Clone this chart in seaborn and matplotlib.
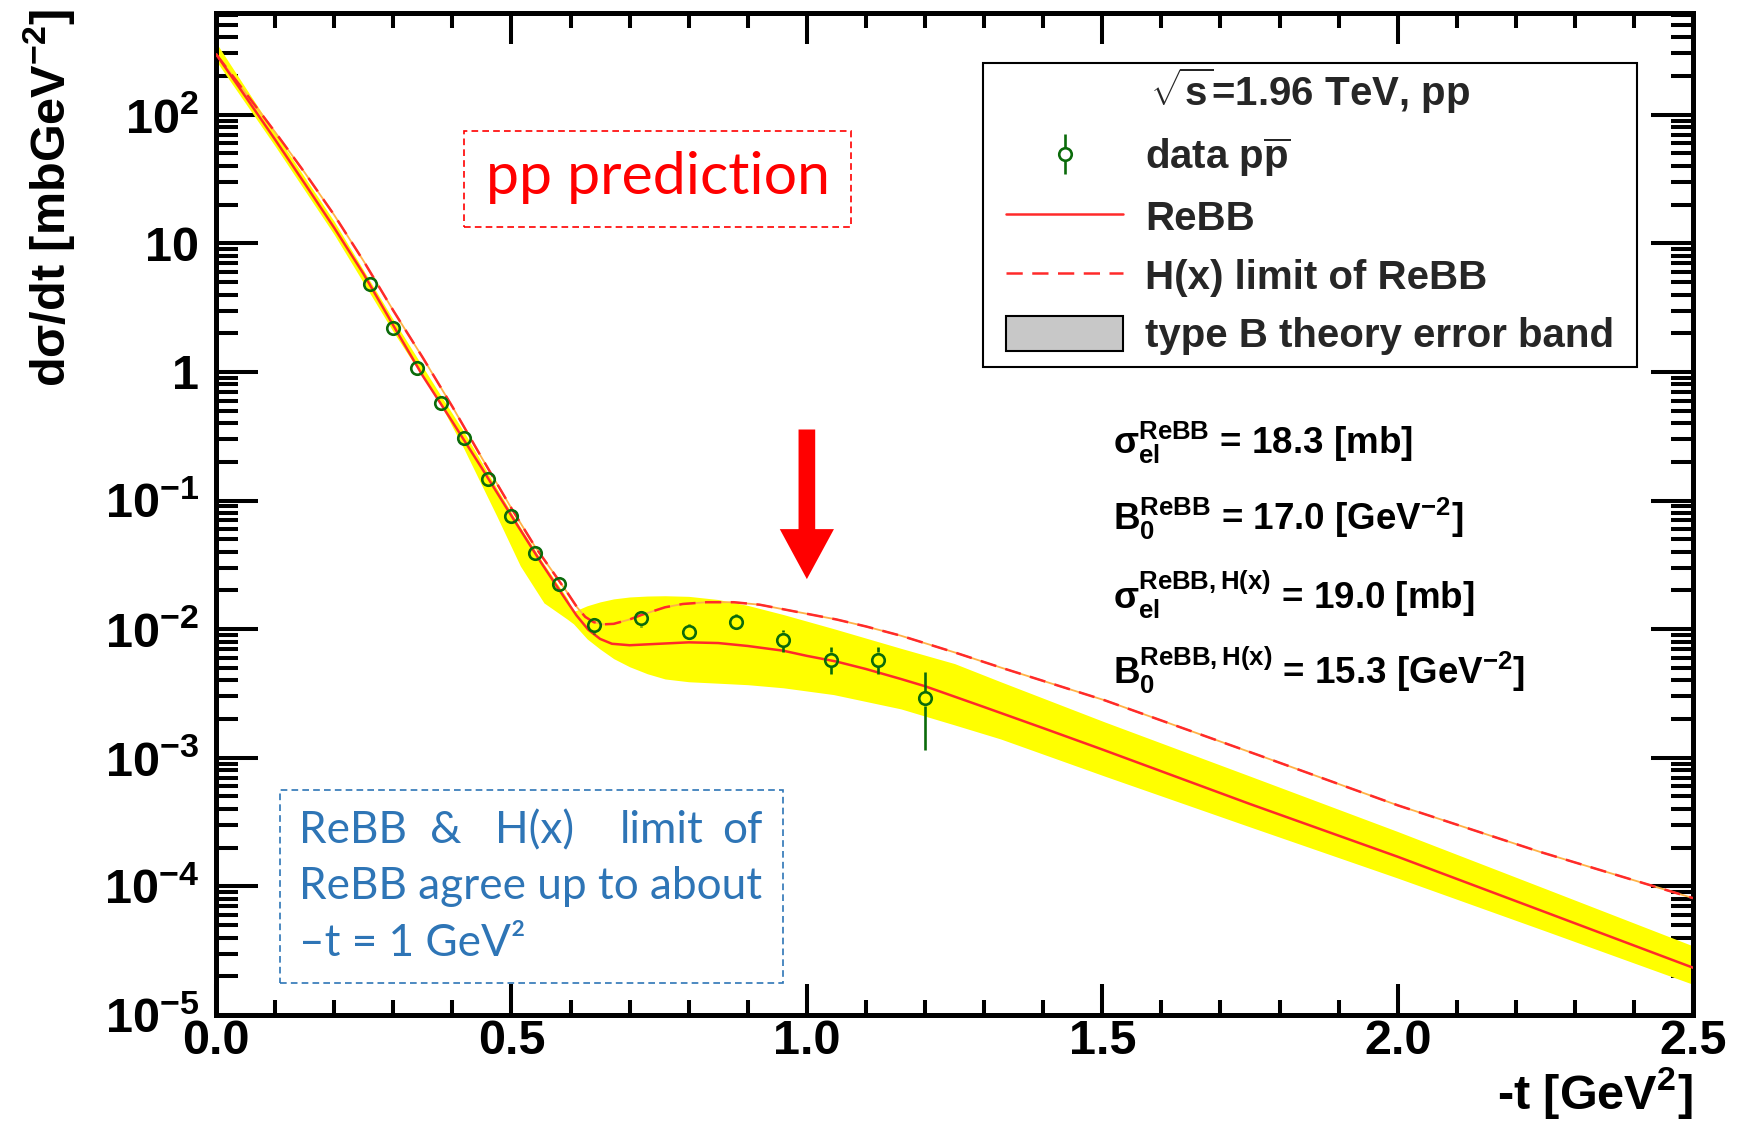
import numpy as np
import matplotlib
matplotlib.use("Agg")
import matplotlib.pyplot as plt
import matplotlib.ticker as mticker
from matplotlib.patches import Rectangle, Patch, FancyArrowPatch
from matplotlib.lines import Line2D
import seaborn as sns

# ---- data ----
# data p-pbar points (-t, dsigma/dt, lower, upper)
t_data = [0.26, 0.30, 0.34, 0.38, 0.42, 0.46, 0.50, 0.54, 0.58, 0.64, 0.72, 0.80, 0.88, 0.96, 1.04, 1.12, 1.20]
sig_data = [4.83, 2.19, 1.08, 0.574, 0.304, 0.146, 0.076, 0.039, 0.0224, 0.0107, 0.0122, 0.0095, 0.0113, 0.0083, 0.0058, 0.0058, 0.0029]
sig_lo = [4.65, 2.11, 1.04, 0.555, 0.294, 0.141, 0.073, 0.037, 0.0205, 0.0092, 0.0104, 0.0082, 0.0098, 0.0066, 0.0045, 0.0045, 0.00115]
sig_hi = [5.02, 2.27, 1.12, 0.593, 0.314, 0.151, 0.079, 0.041, 0.0245, 0.0120, 0.0139, 0.0110, 0.0132, 0.0098, 0.0073, 0.0073, 0.00465]

# ReBB curve
t_rebb = [0.00, 0.05, 0.10, 0.15, 0.20, 0.25, 0.30, 0.35, 0.40, 0.45, 0.50, 0.55, 0.57, 0.59, 0.61, 0.63, 0.65,
          0.67, 0.70, 0.75, 0.80, 0.85, 0.90, 0.96, 1.00, 1.05, 1.10, 1.159, 1.20, 1.30, 1.40, 1.50, 1.75, 2.00,
          2.25, 2.50]
rebb = [296, 138, 64, 29.2, 13.2, 5.75, 2.3, 0.93, 0.41, 0.178, 0.076, 0.033, 0.024, 0.0175, 0.0128, 0.0099,
        0.0084, 0.0077, 0.0075, 0.0077, 0.0079, 0.0078, 0.0074, 0.0068, 0.0062, 0.0056, 0.0049, 0.0041, 0.0036,
        0.00248, 0.0017, 0.00116, 4.37e-4, 1.70e-4, 6.3e-5, 2.33e-5]

# H(x) limit of ReBB
t_hx = [0.00, 0.05, 0.10, 0.15, 0.20, 0.25, 0.30, 0.35, 0.40, 0.45, 0.50, 0.54, 0.577, 0.595, 0.611, 0.625,
        0.639, 0.655, 0.673, 0.70, 0.72, 0.76, 0.79, 0.83, 0.876, 0.92, 0.977, 1.05, 1.10, 1.159, 1.25, 1.33,
        1.504, 1.764, 2.00, 2.24, 2.50]
hx = [296, 148, 73.3, 35.5, 16.6, 7.25, 3.0, 1.29, 0.537, 0.214, 0.087, 0.0437, 0.0251, 0.0191, 0.0148, 0.01245,
      0.01135, 0.0109, 0.0110, 0.0119, 0.0129, 0.0148, 0.0157, 0.0162, 0.0162, 0.0155, 0.0138, 0.0119, 0.0105,
      0.0089, 0.0066, 0.0050, 0.0028, 0.00105, 4.27e-4, 1.86e-4, 8.1e-5]

# type B theory error band
t_band = [0.00, 0.10, 0.20, 0.30, 0.38, 0.42, 0.475, 0.515, 0.555, 0.594, 0.605, 0.628, 0.65, 0.673, 0.70,
          0.73, 0.76, 0.80, 0.85, 0.90, 0.96, 1.045, 1.159, 1.25, 1.328, 1.504, 1.75, 2.00, 2.25, 2.50]
band_lo = [263, 57, 11.7, 2.05, 0.56, 0.25, 0.076, 0.031, 0.016, 0.012, 0.011, 0.0084, 0.0070, 0.0059, 0.0051,
           0.0045, 0.0041, 0.0039, 0.0038, 0.0037, 0.0035, 0.0031, 0.0024, 0.0018, 0.0014, 7.2e-4, 2.9e-4,
           1.16e-4, 4.5e-5, 1.73e-5]
band_hi = [364, 72, 14.8, 2.55, 0.66, 0.34, 0.125, 0.062, 0.032, 0.0175, 0.0137, 0.0152, 0.0163, 0.0172, 0.0178,
           0.0181, 0.0182, 0.0180, 0.0170, 0.0153, 0.0130, 0.0101, 0.0071, 0.0054, 0.0039, 0.0019, 7.2e-4,
           2.67e-4, 9.6e-5, 3.44e-5]

legend_labels = [r"data p$\overline{p}$", "ReBB", "H(x) limit of ReBB", "type B theory error band"]
fit_lines = [r"$\sigma_{el}^{ReBB}$ = 18.3 [mb]",
             r"$B_{0}^{ReBB}$ = 17.0 [GeV$^{-2}$]",
             r"$\sigma_{el}^{ReBB,H(x)}$ = 19.0 [mb]",
             r"$B_{0}^{ReBB,H(x)}$ = 15.3 [GeV$^{-2}$]"]

# ---- style ----
sns.set_theme(style="ticks")
plt.rcParams["font.family"] = ["Liberation Sans", "DejaVu Sans"]
plt.rcParams["font.weight"] = "bold"
plt.rcParams["mathtext.fontset"] = "custom"
plt.rcParams["mathtext.rm"] = "Liberation Sans:bold"
plt.rcParams["mathtext.it"] = "Liberation Sans:bold"
plt.rcParams["mathtext.bf"] = "Liberation Sans:bold"
plt.rcParams["mathtext.sf"] = "Liberation Sans:bold"
plt.rcParams["mathtext.default"] = "rm"

red = "#ff2a2a"
green = "#0b6b0b"
blue = "#2e75b6"
note_font = ["Lato", "DejaVu Sans"]

fig = plt.figure(figsize=(17.37, 11.21), dpi=100, facecolor="white")
ax = fig.add_axes([0.1244, 0.0946, 0.8503, 0.8939])

ymin, ymax = 1e-5, 620

# band, curves
ax.fill_between(t_band, band_lo, band_hi, color="#ffff00", lw=0, zorder=1)
sns.lineplot(x=t_hx, y=hx, ax=ax, color="#ffb347", lw=1.3, sort=False, zorder=2)
sns.lineplot(x=t_rebb, y=rebb, ax=ax, color=red, lw=1.8, sort=False, zorder=3)
sns.lineplot(x=t_hx, y=hx, ax=ax, color=red, lw=1.8, sort=False, zorder=3)
ax.lines[-1].set_linestyle((0, (6.5, 3.8)))

# data: open circles, error bars stop at the marker edge (ROOT style)
ms = 9
px_per_dec = 0.8939 * 11.21 * 100 / np.log10(ymax / ymin)
gap = 10 ** ((ms / 2 + 0.9) * 100 / 72 / px_per_dec)
sd, lo, hi = np.array(sig_data), np.array(sig_lo), np.array(sig_hi)
up = hi > sd * gap
dn = lo < sd / gap
ax.vlines(np.array(t_data)[up], (sd * gap)[up], hi[up], color=green, lw=1.9, zorder=5)
ax.vlines(np.array(t_data)[dn], lo[dn], (sd / gap)[dn], color=green, lw=1.9, zorder=5)
ax.plot(t_data, sig_data, ls="none", marker="o", ms=ms, mfc="none", mec=green, mew=1.9, zorder=5)

# axes
ax.set_yscale("log")
ax.set_xlim(0, 2.5)
ax.set_ylim(ymin, ymax)
ax.xaxis.set_major_locator(mticker.MultipleLocator(0.5))
ax.xaxis.set_minor_locator(mticker.MultipleLocator(0.1))
ax.xaxis.set_major_formatter(mticker.FormatStrFormatter("%.1f"))
ax.yaxis.set_major_locator(mticker.LogLocator(base=10, numticks=20))
ax.yaxis.set_minor_locator(mticker.LogLocator(base=10, subs=np.arange(2, 10), numticks=20))
ax.yaxis.set_minor_formatter(mticker.NullFormatter())


def log_fmt(v, pos):
    e = int(round(np.log10(v)))
    if e == 0:
        return "1"
    if e == 1:
        return "10"
    return r"$10^{%d}$" % e


ax.yaxis.set_major_formatter(mticker.FuncFormatter(log_fmt))
ax.tick_params(which="both", direction="in", top=True, right=True, width=2.9, color="black",
               labelcolor="black", labelsize=35)
ax.tick_params(axis="x", which="major", length=22, pad=3)
ax.tick_params(axis="x", which="minor", length=11)
ax.tick_params(axis="y", which="major", length=30, pad=12)
ax.tick_params(axis="y", which="minor", length=16)
for s in ax.spines.values():
    s.set_visible(True)
    s.set_linewidth(3.6)
    s.set_color("black")
ax.grid(False)

ax.set_xlabel(r"-t [GeV$^{2}$]", fontsize=35, fontweight="bold", loc="right", color="black")
ax.xaxis.set_label_coords(1.0, -0.05)
ax.set_ylabel(r"d$\sigma$/dt [mbGeV$^{-2}$]", fontsize=35, fontweight="bold", loc="top", color="black")
ax.yaxis.set_label_coords(-0.094, 1.004)

# legend: frame drawn as a box, entries from the legend
ax.add_patch(Rectangle((0.5193, 0.6467), 0.4428, 0.3034, transform=ax.transAxes, fc="white",
                       ec="black", lw=1.5, zorder=8))
h_data = ax.errorbar([], [], yerr=[], fmt="o", ms=ms, mfc="white", mec=green, mew=1.9,
                     ecolor=green, elinewidth=1.9, capsize=0)
h_rebb = Line2D([], [], color=red, lw=1.8)
h_hx = Line2D([], [], color=red, lw=1.8, ls=(0, (6.5, 3.8)))
h_band = Patch(fc="#c8c8c8", ec="black", lw=1.5)
leg = ax.legend([h_data, h_rebb, h_hx, h_band], legend_labels,
                title=r"$\sqrt{s}$=1.96 TeV, pp", loc="upper left", bbox_to_anchor=(0.5349, 0.9473),
                fontsize=29, title_fontsize=29, frameon=False, borderpad=0, labelspacing=0.48,
                handlelength=2.9, handleheight=0.95, handletextpad=0.55, borderaxespad=0)
leg.set_zorder(10)

# fit results
for i, s in enumerate(fit_lines):
    ax.text(0.607, 0.571 - i * 0.0757, s, transform=ax.transAxes, fontsize=26.5, fontweight="bold",
            ha="left", va="center", color="black", zorder=6)

# arrow at -t = 1
ax.add_patch(FancyArrowPatch(posA=(1.0, 0.357), posB=(1.0, 0.0245),
                             arrowstyle="simple,head_length=3.6,head_width=3.9,tail_width=1.2",
                             mutation_scale=10, color="red", lw=0, shrinkA=0, shrinkB=0, zorder=6))

# "pp prediction" box
ax.add_patch(Rectangle((0.168, 0.786), 0.262, 0.096, transform=ax.transAxes, fill=False,
                       ec="red", ls=(0, (4, 2.5)), lw=1.2, zorder=6))
ax.text(0.299, 0.836, "pp prediction", transform=ax.transAxes, fontsize=42.5, family=note_font,
        fontweight="normal", color="red", ha="center", va="center", zorder=6)

# blue comment box
ax.add_patch(Rectangle((0.0433, 0.032), 0.3407, 0.1926, transform=ax.transAxes, fill=False,
                       ec=blue, ls=(0, (4, 2.5)), lw=1.2, zorder=6))
words = ["ReBB", "&", "H(x)", "limit", "of"]
word_x = [0.0562, 0.1449, 0.1889, 0.2735, 0.3426]
for w, xw in zip(words, word_x):
    ax.text(xw, 0.1836, w, transform=ax.transAxes, fontsize=31.8, family=note_font,
            fontweight="normal", color=blue, ha="left", va="center", zorder=6)
ax.text(0.0562, 0.1277, "ReBB agree up to about", transform=ax.transAxes, fontsize=31.8,
        family=note_font, fontweight="normal", color=blue, ha="left", va="center", zorder=6)
ax.text(0.0562, 0.0709, "\u2013t = 1 GeV\u00b2", transform=ax.transAxes, fontsize=31.8,
        family=note_font, fontweight="normal", color=blue, ha="left", va="center", zorder=6)

fig.savefig("out.png", dpi=100, facecolor="white")
